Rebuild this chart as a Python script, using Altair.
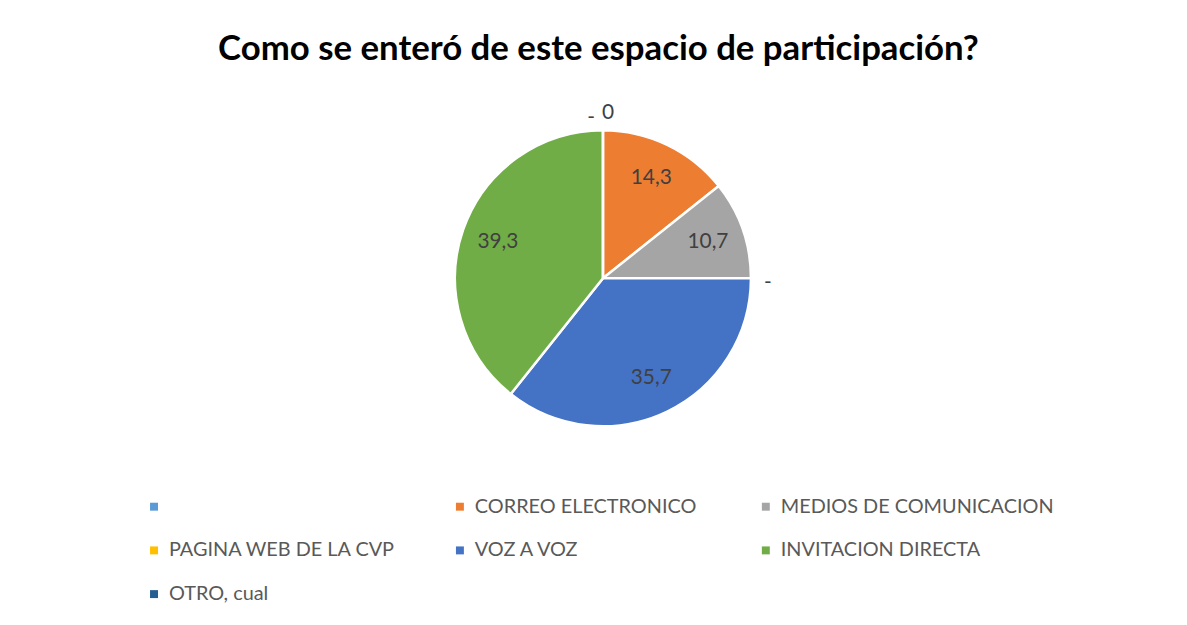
import altair as alt
import pandas as pd

categories = ["", "CORREO ELECTRONICO", "MEDIOS DE COMUNICACION", "PAGINA WEB DE LA CVP",
              "VOZ A VOZ", "INVITACION DIRECTA", "OTRO, cual"]
values = [0, 14.3, 10.7, 0, 35.7, 39.3, 0]
labels = ["0", "14,3", "10,7", "-", "35,7", "39,3", "-"]
colors = ["#5B9BD5", "#ED7D31", "#A5A5A5", "#FFC000", "#4472C4", "#70AD47", "#255E91"]

df = pd.DataFrame({"cat": categories, "value": values, "label": labels,
                   "idx": list(range(len(categories)))})

FONT = "Lato"
CX, CY = 599, 195
R = 149
TXT = "#404040"

pie = alt.Chart(df).mark_arc(outerRadius=R, stroke="white", strokeWidth=2.5).encode(
    theta=alt.Theta("value:Q", stack=True),
    order=alt.Order("idx:Q"),
    x=alt.value(CX), y=alt.value(CY),
    color=alt.Color("cat:N", sort=categories,
                    scale=alt.Scale(domain=categories, range=colors),
                    legend=alt.Legend(title=None, orient="none", legendX=137, legendY=415,
                                      direction="horizontal",
                                      columns=3, gridAlign="all", symbolType="square",
                                      symbolSize=64, symbolStrokeWidth=0,
                                      labelFont=FONT, labelFontSize=20, labelColor="#595959",
                                      labelOffset=5, columnPadding=8, rowPadding=24,
                                      padding=0, labelLimit=400)),
)

# label angles: stack first, then filter (so each label keeps its slice position)
tbase = alt.Chart(df).transform_joinaggregate(
    total="sum(value)"
).transform_stack(
    stack="value", groupby=[], as_=["v0", "v1"], sort=[alt.SortField("idx")]
).transform_calculate(
    frac="(datum.v0 + datum.v1) / 2 / datum.total"
).encode(
    theta=alt.Theta("frac:Q", stack=None, scale=alt.Scale(domain=[0, 1])),
    x=alt.value(CX), y=alt.value(CY), text="label:N",
)

inner = tbase.mark_text(radius=112, font=FONT, fontSize=21, color=TXT).transform_filter(
    "datum.value > 0")

zero_first = tbase.mark_text(radius=168, font=FONT, fontSize=21, color=TXT,
                             align="left", dx=-1, dy=2).transform_filter("datum.idx == 0")

zero_mid = tbase.mark_text(radius=166, font=FONT, fontSize=21, color=TXT,
                           dy=5).transform_filter("datum.idx == 3")

zero_last = tbase.mark_text(radius=162, font=FONT, fontSize=21, color=TXT,
                            align="right", dx=-8, dy=1).transform_filter("datum.idx == 6")

chart = alt.layer(pie, inner, zero_first, zero_mid, zero_last).resolve_scale(
    theta="independent"
).properties(
    width=1179, height=542,
    padding={"left": 0, "top": 75, "right": 0, "bottom": 0},
    autosize=alt.AutoSizeParams(type="none"),
    title=alt.TitleParams("Como se enteró de este espacio de participación?",
                          font=FONT, fontSize=35, fontWeight="bold", color="#000000",
                          anchor="middle", offset=18, dx=5),
).configure_view(stroke=None)

chart.save("out.html", embed_options={"renderer": "svg", "actions": False})
